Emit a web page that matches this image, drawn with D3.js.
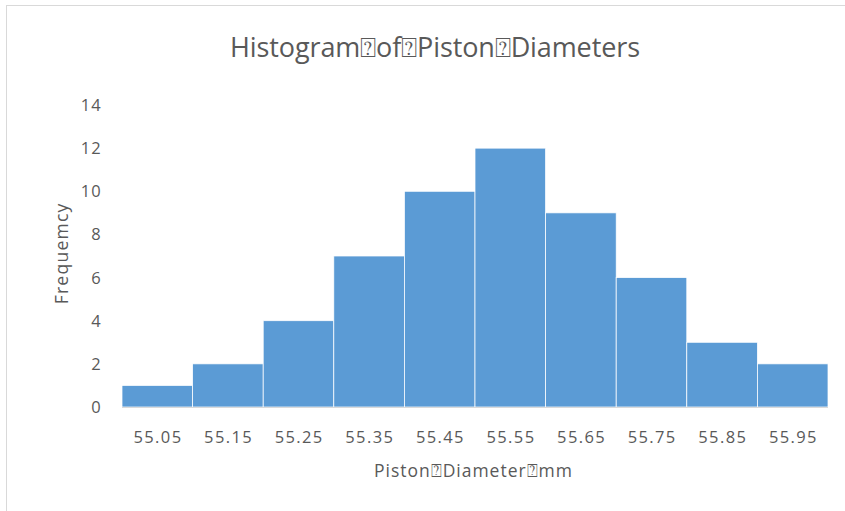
<!DOCTYPE html>
<html><head><meta charset="utf-8">
<script src="https://cdn.jsdelivr.net/npm/d3@7/dist/d3.min.js"></script>
<style>body{margin:0;background:#fff}svg{display:block}</style>
</head><body><svg id="c" width="845" height="511"></svg>
<script>
const binLabels = ["55.05","55.15","55.25","55.35","55.45","55.55","55.65","55.75","55.85","55.95"];
const binStarts = [55.0,55.1,55.2,55.3,55.4,55.5,55.6,55.7,55.8,55.9];
const binWidth = 0.1;
const frequencies = [1,2,4,7,10,12,9,6,3,2];
const yTicks = [0,2,4,6,8,10,12,14];
const titleText = "Histogram\u2370of\u2370Piston\u2370Diameters";
const xTitleText = "Piston\u2370Diameter\u2370mm";
const yTitleText = "Frequemcy";

const svg = d3.select("#c");
const font = "'Open Sans', sans-serif";
const col = "#595959";
svg.append("rect").attr("x",6.5).attr("y",5.5).attr("width",900).attr("height",600)
  .attr("fill","#fff").attr("stroke","#d9d9d9").attr("stroke-width",1);

const x = d3.scaleLinear().domain([55.0,56.0]).range([122,828]);
const y = d3.scaleLinear().domain([0,14]).range([407,105]);

svg.append("g").selectAll("rect").data(frequencies).join("rect")
  .attr("x",(d,i)=>x(binStarts[i]))
  .attr("width",(d,i)=>x(binStarts[i]+binWidth)-x(binStarts[i]))
  .attr("y",d=>y(d)).attr("height",d=>y(0)-y(d))
  .attr("fill","#5b9bd5").attr("stroke","#fff").attr("stroke-width",0.75);

svg.append("line").attr("x1",x(55.0)).attr("x2",x(56.0)).attr("y1",y(0)+0.5).attr("y2",y(0)+0.5)
  .attr("stroke","#d9d9d9").attr("stroke-width",1);

function fit(sel, target){
  sel.each(function(){
    const n = this.textContent.length;
    const w = this.getComputedTextLength();
    const ls = (target - w)/n;
    d3.select(this).attr("letter-spacing", ls.toFixed(2));
    if (d3.select(this).attr("text-anchor")==="middle"){
      d3.select(this).attr("dx", (ls/2).toFixed(2));
    }
  });
}

const xl = svg.append("g").selectAll("text").data(binLabels).join("text")
  .attr("x",(d,i)=>x(binStarts[i]+binWidth/2)).attr("y",443)
  .attr("text-anchor","middle").attr("font-family",font).attr("font-size",16.5).attr("fill",col)
  .text(d=>d);
fit(xl, 49);

const yl = svg.append("g").selectAll("text").data(yTicks).join("text")
  .attr("x",102).attr("y",d=>y(d)+6)
  .attr("text-anchor","end").attr("font-family",font).attr("font-size",16.5).attr("fill",col)
  .attr("letter-spacing",1.2)
  .text(d=>d);

const t = svg.append("text").attr("x",435).attr("y",57).attr("text-anchor","middle")
  .attr("font-family",font).attr("font-size",27).attr("fill",col).text(titleText);
fit(t, 410);
const xt = svg.append("text").attr("x",473).attr("y",477).attr("text-anchor","middle")
  .attr("font-family",font).attr("font-size",17.5).attr("fill",col).text(xTitleText);
fit(xt, 199);
const yt = svg.append("text").attr("transform","translate(68,254) rotate(-90)").attr("text-anchor","middle")
  .attr("font-family",font).attr("font-size",17.5).attr("fill",col).text(yTitleText);
fit(yt, 102);
</script></body></html>
